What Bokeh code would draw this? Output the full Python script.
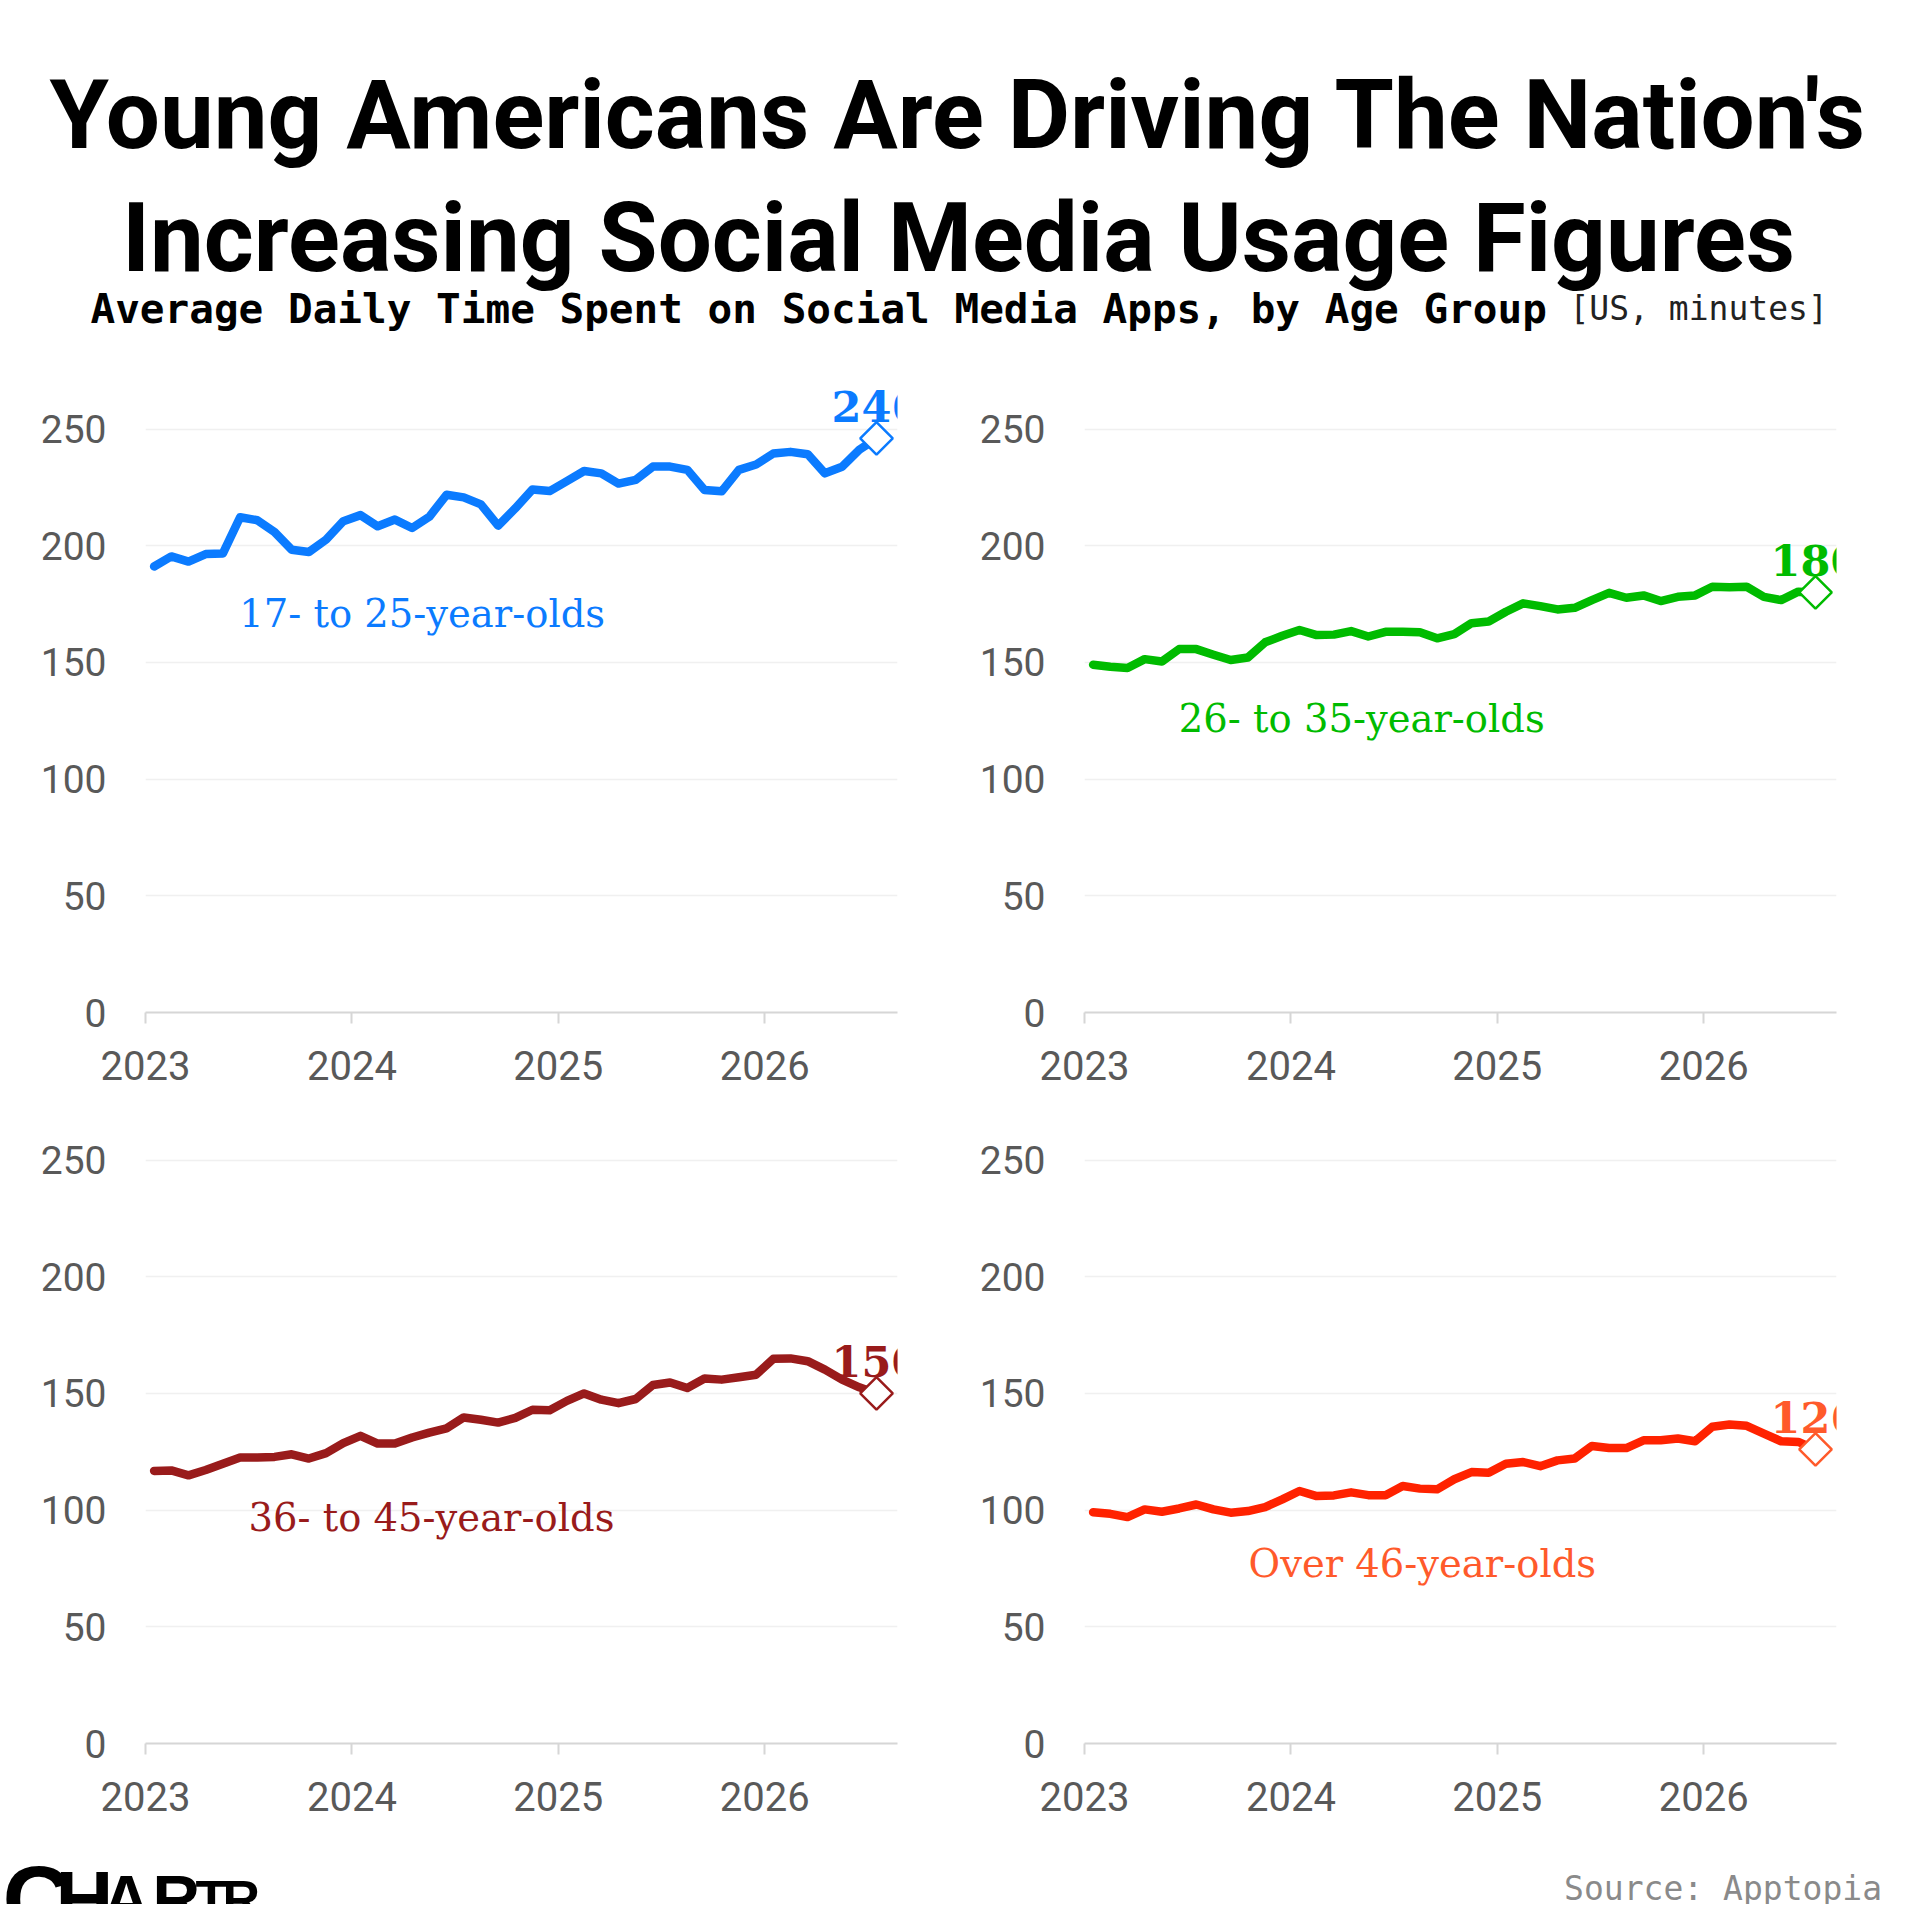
from bokeh.plotting import figure
from bokeh.models import Range1d, FixedTicker, Label
from bokeh.layouts import column, row
from bokeh.embed import file_html
from bokeh.resources import INLINE
from bokeh.core.properties import value

# ---------------- data ----------------
# monthly points, Jan 2023 .. Jul 2026 (plotted at mid-month)
month_labels = [f"{y}-{m:02d}" for y in (2023, 2024, 2025, 2026) for m in range(1, 13)][:43]
months = [int(s[:4]) + (int(s[5:]) - 0.5) / 12 for s in month_labels]

age_17_25 = [191.1, 195.4, 193.2, 196.4, 196.7, 212.2, 210.9, 205.9, 198.3, 197.3,
             202.6, 210.5, 213.1, 208.3, 211.2, 207.6, 212.4, 221.8, 220.7, 217.7,
             208.6, 216.0, 224.1, 223.4, 227.7, 232.0, 231.0, 226.6, 228.2, 233.9,
             233.9, 232.5, 223.9, 223.3, 232.5, 234.8, 239.5, 240.2, 239.2, 231.0,
             233.8, 241.1, 246.0]
age_26_35 = [149.0, 148.1, 147.6, 151.4, 150.4, 155.7, 155.7, 153.3, 151.0, 152.1,
             158.6, 161.4, 163.9, 161.7, 161.9, 163.4, 161.1, 163.1, 163.1, 162.9,
             160.3, 162.1, 166.8, 167.5, 171.7, 175.3, 174.1, 172.7, 173.4, 176.7,
             179.8, 177.7, 178.7, 176.3, 178.1, 178.7, 182.4, 182.2, 182.4, 178.1,
             176.7, 180.3, 180.0]
age_36_45 = [116.8, 117.0, 114.9, 117.2, 119.9, 122.5, 122.5, 122.8, 123.9, 122.1,
             124.4, 128.7, 131.8, 128.5, 128.5, 131.1, 133.2, 135.0, 139.7, 138.7,
             137.5, 139.5, 143.0, 142.8, 146.8, 150.0, 147.3, 145.8, 147.6, 153.6,
             154.7, 152.3, 156.4, 155.9, 156.9, 158.0, 164.8, 165.0, 163.8, 160.2,
             155.9, 152.6, 150.0]
age_46_plus = [99.1, 98.4, 97.0, 100.3, 99.3, 100.7, 102.4, 100.3, 98.9, 99.6,
               101.3, 104.6, 108.2, 106.0, 106.3, 107.6, 106.4, 106.4, 110.3, 109.2,
               108.9, 113.2, 116.3, 116.0, 119.9, 120.6, 118.8, 121.3, 122.1, 127.5,
               126.6, 126.6, 129.9, 129.9, 130.7, 129.5, 135.7, 136.7, 136.1, 132.8,
               129.5, 129.2, 126.0]

series_names = ["17- to 25-year-olds", "26- to 35-year-olds",
                "36- to 45-year-olds", "Over 46-year-olds"]
year_ticks = [2023, 2024, 2025, 2026]
value_ticks = [0, 50, 100, 150, 200, 250]

title_1 = "Young Americans Are Driving The Nation's"
title_2 = "Increasing Social Media Usage Figures"
subtitle_bold = "Average Daily Time Spent on Social Media Apps, by Age Group"
subtitle_unit = "[US, minutes]"
source_text = "Source: Apptopia"

# ---------------- style ----------------
TITLE_FONT = "Roboto"
MONO = "DejaVu Sans Mono"
SERIF = "DejaVu Serif"
AXIS_FONT = "Roboto"
LOGO_FONT = "Liberation Sans"
AXIS_COLOR = "#d6d6d6"
LABEL_GRAY = "#595959"

FRAME_W = 752
X_START = 2023.0
X_END = 2023.0 + FRAME_W / 206.4
PX_PER_UNIT = 2.334


def add_text(fig, x, y, txt, font, size, color, align="left", bold=False):
    fig.text(x=[x], y=[y], text=[txt], text_font=value(font),
             text_font_size=value(size), text_font_style="bold" if bold else "normal",
             text_color=color, text_align=align, text_baseline="alphabetic")


def make_panel(values, line_color, text_color, name, name_x, name_y,
               frame_h, top, bottom, left, width=940):
    y_end = frame_h / PX_PER_UNIT
    right = width - left - FRAME_W
    p = figure(width=width, height=top + frame_h + bottom,
               x_range=Range1d(X_START, X_END), y_range=Range1d(0, y_end),
               output_backend="svg", toolbar_location=None,
               min_border_left=left, min_border_right=right,
               min_border_top=top, min_border_bottom=bottom)
    p.outline_line_color = None

    p.line(months, values, line_width=8.5, line_color=line_color,
           line_join="round", line_cap="round")
    p.scatter(months[-1:], values[-1:], marker="square", angle=0.785398,
              size=23, fill_color="white", line_color=text_color, line_width=2.5)

    p.add_layout(Label(x=months[-1], y=values[-1], text=f"{values[-1]:.0f}",
                       y_offset=32, text_align="center", text_baseline="alphabetic",
                       text_font=SERIF, text_font_style="bold",
                       text_font_size="43px", text_color=text_color))
    add_text(p, name_x, name_y, name, SERIF, "38.5px", text_color)

    p.xaxis.ticker = FixedTicker(ticks=year_ticks)
    p.xaxis.axis_line_color = AXIS_COLOR
    p.xaxis.axis_line_width = 2
    p.xaxis.major_tick_line_color = AXIS_COLOR
    p.xaxis.major_tick_line_width = 2
    p.xaxis.major_tick_out = 11
    p.xaxis.major_tick_in = 0
    p.xaxis.minor_tick_out = 0
    p.xaxis.minor_tick_in = 0
    p.xaxis.major_label_standoff = 27
    p.xaxis.major_label_text_font = AXIS_FONT
    p.xaxis.major_label_text_font_size = "40px"
    p.xaxis.major_label_text_color = LABEL_GRAY

    p.yaxis.ticker = FixedTicker(ticks=value_ticks)
    p.yaxis.axis_line_alpha = 0
    p.yaxis.major_tick_out = 0
    p.yaxis.major_tick_in = 0
    p.yaxis.minor_tick_out = 0
    p.yaxis.minor_tick_in = 0
    p.yaxis.major_label_standoff = 39
    p.yaxis.major_label_text_font = AXIS_FONT
    p.yaxis.major_label_text_font_size = "39px"
    p.yaxis.major_label_text_color = LABEL_GRAY

    p.xgrid.grid_line_alpha = 0
    p.ygrid.grid_line_color = "#f0f0f0"
    p.ygrid.grid_line_width = 1.5
    return p


p1 = make_panel(age_17_25, "#0B7BFF", "#0B7BFF", series_names[0], 2023.454, 171.0,
                frame_h=644, top=28, bottom=90, left=145)
p2 = make_panel(age_26_35, "#00BB00", "#00BB00", series_names[1], 2023.457, 126.0,
                frame_h=644, top=28, bottom=90, left=144)
p3 = make_panel(age_36_45, "#991B1B", "#991B1B", series_names[2], 2023.499, 96.9,
                frame_h=610, top=31, bottom=79, left=145)
p4 = make_panel(age_46_plus, "#FF2200", "#FF5A2B", series_names[3], 2023.795, 77.0,
                frame_h=610, top=31, bottom=79, left=144)


def blank(width, height):
    f = figure(width=width, height=height, x_range=Range1d(0, width),
               y_range=Range1d(0, height), x_axis_type=None, y_axis_type=None,
               output_backend="svg", toolbar_location=None,
               min_border_left=0, min_border_right=0,
               min_border_top=0, min_border_bottom=0)
    f.outline_line_color = None
    return f


H_HEAD = 340
header = blank(1904, H_HEAD)
add_text(header, 958, H_HEAD - 114, title_1, TITLE_FONT, "96px", "black",
         align="center", bold=True)
add_text(header, 958, H_HEAD - 237, title_2, TITLE_FONT, "96px", "black",
         align="center", bold=True)
add_text(header, 90, H_HEAD - 308, subtitle_bold, MONO, "41px", "black", bold=True)
add_text(header, 1569, H_HEAD - 308, subtitle_unit, MONO, "33px", "#222222")

H_FOOT = 82
footer = blank(1904, H_FOOT)
logo_parts = [("C", 2, "95px"), ("H", 55, "80px"), ("A", 102, "66px"),
              ("R", 152, "66px"), ("T", 195, "52px"), ("R", 222, "52px")]
for ch, lx, fs in logo_parts:
    add_text(footer, lx, H_FOOT - 76.7, ch, LOGO_FONT, fs, "black", bold=True)
add_text(footer, 1881.5, H_FOOT - 65.6, source_text, MONO, "33px", "#8a8a8a",
         align="right")

layout = column(header, row(p1, p2), row(p3, p4), footer)

with open("out.html", "w") as fh:
    fh.write(file_html(layout, INLINE))
